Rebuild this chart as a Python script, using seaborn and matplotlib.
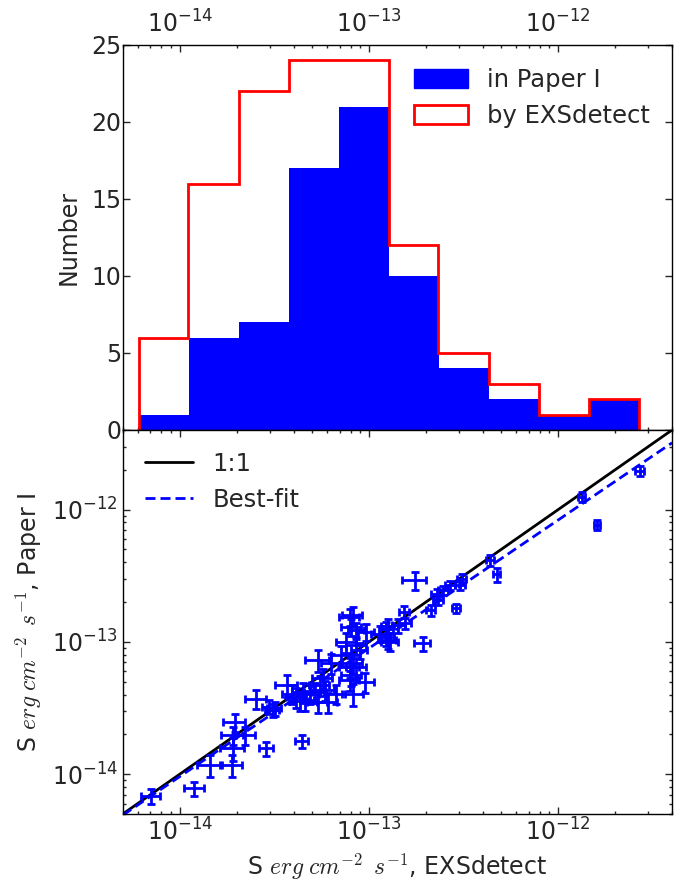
import numpy as np
import pandas as pd
import matplotlib
matplotlib.use("Agg")
import matplotlib.pyplot as plt
from matplotlib.patches import Patch
from matplotlib.ticker import NullFormatter
import seaborn as sns

# --- data ---
# histogram bin edges (erg cm^-2 s^-1)
bin_edges = [6.07e-15, 1.11e-14, 2.05e-14, 3.76e-14, 6.92e-14, 1.28e-13,
             2.33e-13, 4.32e-13, 7.94e-13, 1.46e-12, 2.68e-12]
n_paper = [1, 6, 7, 17, 21, 10, 4, 2, 1, 2]
n_exsdetect = [6, 16, 22, 24, 24, 12, 5, 3, 1, 2]

# fluxes in units of 1e-14 erg cm^-2 s^-1
s_exsdetect = [0.705, 1.196, 1.446, 1.884, 1.906, 1.954, 1.906, 2.20, 2.86, 4.42,
               2.53, 2.98, 3.10, 3.17, 3.68, 3.93, 4.13, 4.48, 4.57, 4.86,
               5.16, 5.37, 5.49, 5.71, 6.07, 6.71, 5.37, 6.32, 7.14, 7.91,
               8.23, 8.57, 7.91, 9.49, 8.23, 8.06, 7.59, 7.91, 8.23, 8.06,
               8.57, 9.68, 8.57, 8.93, 11.4, 12.35, 12.88, 12.35, 17.5, 12.6,
               12.65, 14.3, 15.3, 15.5, 19.2, 21.2, 23.3, 22.8, 24.7, 26.8,
               28.8, 30.9, 30.3, 43.7, 47.4, 133.4, 160.3, 269.2, 4.3, 5.85]
s_paper = [0.685, 0.78, 1.17, 1.17, 1.564, 2.46, 1.97, 1.97, 1.564, 1.776,
           3.73, 3.23, 3.05, 3.14, 4.71, 4.07, 3.84, 4.19, 3.62, 4.07,
           4.19, 3.52, 4.71, 5.29, 3.52, 4.07, 7.27, 6.87, 7.93, 6.47,
           6.87, 6.47, 5.13, 4.99, 4.07, 5.60, 10.0, 15.45, 15.9, 12.98,
           12.25, 11.9, 9.44, 8.65, 11.57, 10.9, 10.0, 12.6, 29.3, 13.2,
           10.3, 13.37, 16.9, 13.8, 9.73, 17.4, 20.7, 23.2, 24.6, 26.8,
           17.9, 30.1, 26.8, 41.5, 32.5, 124.7, 77.1, 196.2, 3.6, 4.3]
# relative 1-sigma errors
err_exsdetect = [0.11, 0.12, 0.15, 0.13, 0.14, 0.13, 0.13, 0.13, 0.085, 0.077,
                 0.13, 0.085, 0.085, 0.085, 0.13, 0.12, 0.12, 0.12, 0.12, 0.12,
                 0.12, 0.12, 0.12, 0.12, 0.12, 0.12, 0.15, 0.12, 0.12, 0.12,
                 0.12, 0.12, 0.12, 0.12, 0.13, 0.12, 0.12, 0.12, 0.12, 0.12,
                 0.10, 0.10, 0.12, 0.10, 0.10, 0.10, 0.10, 0.08, 0.15, 0.08,
                 0.10, 0.08, 0.06, 0.07, 0.10, 0.06, 0.06, 0.07, 0.06, 0.06,
                 0.05, 0.05, 0.06, 0.05, 0.04, 0.04, 0.04, 0.05, 0.12, 0.12]
err_paper = [0.13, 0.12, 0.19, 0.19, 0.19, 0.16, 0.16, 0.16, 0.12, 0.11,
             0.16, 0.12, 0.12, 0.12, 0.19, 0.17, 0.17, 0.17, 0.17, 0.17,
             0.17, 0.17, 0.17, 0.17, 0.17, 0.17, 0.19, 0.17, 0.17, 0.17,
             0.17, 0.17, 0.17, 0.17, 0.19, 0.17, 0.17, 0.15, 0.15, 0.15,
             0.14, 0.14, 0.15, 0.14, 0.14, 0.14, 0.14, 0.12, 0.16, 0.12,
             0.14, 0.12, 0.10, 0.10, 0.12, 0.10, 0.08, 0.09, 0.08, 0.08,
             0.08, 0.08, 0.08, 0.09, 0.12, 0.09, 0.09, 0.09, 0.17, 0.17]

# reference lines (end points)
line_x = [5e-15, 4e-12]
fit_y = [4.9e-15, 3.2e-12]

flux_lim = (5e-15, 4e-12)

sns.set_style("ticks")
plt.rcParams["font.family"] = ["DejaVu Sans"]
plt.rcParams["mathtext.fontset"] = "cm"
plt.rcParams["axes.unicode_minus"] = False
plt.rcParams["font.size"] = 17

fig = plt.figure(figsize=(6.9, 8.84), dpi=100)
ax1 = fig.add_axes([0.178, 0.5136, 0.796, 0.4355])
ax2 = fig.add_axes([0.178, 0.0792, 0.796, 0.4344])

# ---- top panel: histograms ----
edges = np.array(bin_edges)
hist_df = pd.DataFrame({"flux": np.sqrt(edges[:-1] * edges[1:]),
                        "paper": n_paper, "exs": n_exsdetect})
log_range = (np.log10(edges[0]), np.log10(edges[-1]))
sns.histplot(data=hist_df, x="flux", weights="paper", bins=len(n_paper),
             binrange=log_range, log_scale=True, element="step", fill=True,
             color="blue", alpha=1, linewidth=0, ax=ax1)
ax1.hist(hist_df["flux"], bins=edges, weights=hist_df["exs"], histtype="step",
         color="red", linewidth=2)
ax1.set_xscale("log")
ax1.set_xlim(flux_lim)
ax1.set_ylim(0, 25)
ax1.set_yticks([0, 5, 10, 15, 20, 25])
ax1.set_ylabel("Number")
ax1.set_xlabel("")
ax1.tick_params(which="both", direction="in", top=True, bottom=True,
                left=True, right=True, labeltop=True, labelbottom=False)
ax1.tick_params(axis="x", which="major", pad=5)
ax1.tick_params(axis="y", which="major", pad=1)
handles = [Patch(facecolor="blue", edgecolor="blue", label="in Paper I"),
           Patch(facecolor="none", edgecolor="red", linewidth=2, label="by EXSdetect")]
ax1.legend(handles=handles, loc="upper right", frameon=False, fontsize=17.5,
           handlelength=2.2, handleheight=0.85, bbox_to_anchor=(1.0, 0.998))

# ---- bottom panel: flux comparison ----
df = pd.DataFrame({"exs": np.array(s_exsdetect) * 1e-14,
                   "paper": np.array(s_paper) * 1e-14})
df["exs_err"] = df["exs"] * np.array(err_exsdetect)
df["paper_err"] = df["paper"] * np.array(err_paper)

sns.lineplot(x=line_x, y=line_x, color="black", linewidth=2, label="1:1", ax=ax2)
sns.lineplot(x=line_x, y=fit_y, color="blue", linewidth=2, label="Best-fit",
             ax=ax2)
ax2.lines[-1].set_dashes([3.6, 1.8])
ax2.errorbar(df["exs"], df["paper"], xerr=df["exs_err"], yerr=df["paper_err"],
             fmt="none", ecolor="blue", elinewidth=2, capsize=3, capthick=2)
sns.scatterplot(data=df, x="exs", y="paper", color="blue", s=5, linewidth=0,
                ax=ax2)
ax2.set_xscale("log")
ax2.set_yscale("log")
ax2.set_xlim(flux_lim)
ax2.set_ylim(flux_lim)
ax2.tick_params(which="both", direction="in", top=True, bottom=True,
                left=True, right=True)
ax2.set_xlabel(r"S $erg\;cm^{-2}\ \,s^{-1}$, EXSdetect")
ax2.set_ylabel(r"S $erg\;cm^{-2}\ \,s^{-1}$, Paper I")
leg = ax2.legend(loc="upper left", frameon=False, fontsize=17.5, handlelength=2.0)
leg.get_lines()[1].set_dashes([3.6, 1.8])

for ax in (ax1, ax2):
    ax.tick_params(which="major", length=5, width=1)
    ax.tick_params(which="minor", length=2.5, width=1)
    ax.xaxis.set_minor_formatter(NullFormatter())
    for sp in ax.spines.values():
        sp.set_linewidth(1)
        sp.set_color("black")
ax2.yaxis.set_minor_formatter(NullFormatter())
ax1.yaxis.set_label_coords(-0.0765, 0.5)
ax2.yaxis.set_label_coords(-0.143, 0.5)

fig.savefig("out.png", dpi=100)
